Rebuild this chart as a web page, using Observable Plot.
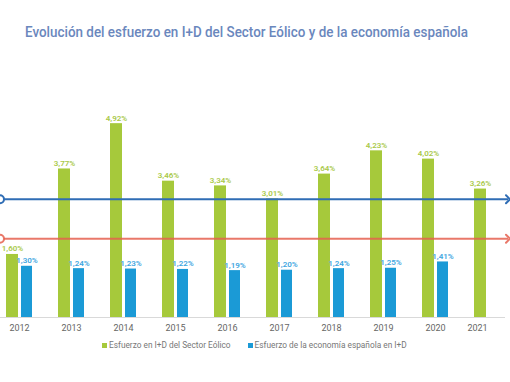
<!DOCTYPE html>
<html><head><meta charset="utf-8">
<script src="https://cdn.jsdelivr.net/npm/d3@7"></script>
<script src="https://cdn.jsdelivr.net/npm/@observablehq/plot@0.6"></script>
<style>
body{margin:0;background:#fff;font-family:Roboto,"Noto Sans",sans-serif;}
#wrap{width:510px;height:382px;overflow:hidden;position:relative;background:#fff}
#title{height:52px;box-sizing:border-box;padding:22px 0 0 25px;white-space:nowrap}
#title span{display:inline-block;font-size:15px;line-height:18px;font-weight:500;color:#6a87bd;transform-origin:0 50%}
#chart svg{display:block}
#legend{margin-top:5px;height:10px;line-height:10px;font-size:8.3px;color:#777;padding-left:102px;white-space:nowrap;display:flex}
#legend .item{display:flex;align-items:center}
#legend .sw{width:5px;height:5px;margin-right:2px;display:inline-block}
</style></head><body>
<div id="wrap">
  <div id="title"><span id="titletext">Evolución del esfuerzo en I+D del Sector Eólico y de la economía española</span></div>
  <div id="chart"></div>
  <div id="legend"></div>
</div>
<script>
const years = ["2012","2013","2014","2015","2016","2017","2018","2019","2020","2021"];
const eolico = [1.60, 3.77, 4.92, 3.46, 3.34, 3.01, 3.64, 4.23, 4.02, 3.26];
const espana = [1.30, 1.24, 1.23, 1.22, 1.19, 1.20, 1.24, 1.25, 1.41, null];
const seriesNames = ["Esfuerzo en I+D del Sector Eólico", "Esfuerzo de la economía española en I+D"];
const refValues = [3, 2];

const GREEN = "#a6c93b";
const BLUE = "#1b9ad6";
const GREEN_TXT = "#a9c94a";
const BLUE_TXT = "#3ea6df";

const data = years.map((y, i) => ({year: y, eolico: eolico[i], espana: espana[i]}));
const dataEsp = data.filter(d => d.espana != null);
const fmt = v => v.toFixed(2).replace(".", ",") + "%";

const chart = Plot.plot({
  width: 510, height: 283,
  marginTop: 68, marginBottom: 18, marginLeft: 0, marginRight: 0,
  style: {fontFamily: "Roboto, sans-serif", background: "#fff"},
  x: {domain: years, range: [-7, 513], padding: 0, axis: null},
  y: {domain: [0, 5], axis: null},
  marks: [
    Plot.ruleY([0], {stroke: "#d9d9d9", insetRight: 5}),
    Plot.barY(data, {x: "year", y: "eolico", fill: GREEN, insetLeft: 13, insetRight: 27}),
    Plot.barY(dataEsp, {x: "year", y: "espana", fill: BLUE, insetLeft: 28, insetRight: 13}),
    Plot.text(data, {x: "year", y: "eolico", text: d => fmt(d.eolico), dx: -7, dy: -3, lineAnchor: "bottom", fill: GREEN_TXT, fontSize: 8, fontWeight: 600}),
    Plot.text(dataEsp, {x: "year", y: "espana", text: d => fmt(d.espana), dx: 7.5, dy: -3, lineAnchor: "bottom", fill: BLUE_TXT, fontSize: 8, fontWeight: 600}),
    Plot.ruleY([refValues[0]], {stroke: "#2f6db5", strokeWidth: 2, insetRight: 2, markerStart: "circle-stroke", markerEnd: "arrow"}),
    Plot.ruleY([refValues[1]], {stroke: "#e5604f", strokeOpacity: 0.85, strokeWidth: 2, insetRight: 2, markerStart: "circle-stroke", markerEnd: "arrow"}),
    Plot.axisX(years.slice(0, 9), {tickSize: 0, tickPadding: 7, fontSize: 9, color: "#666", label: null}),
    Plot.axisX(years.slice(9), {tickSize: 0, tickPadding: 7, fontSize: 9, color: "#666", dx: -10, label: null})
  ]
});
document.getElementById("chart").appendChild(chart);

// fit title to the reference width
const tt = document.getElementById("titletext");
const w = tt.getBoundingClientRect().width;
tt.style.transform = `scaleX(${443 / w})`;

const legend = document.getElementById("legend");
[[GREEN, seriesNames[0]], [BLUE, seriesNames[1]]].forEach(([c, name], i) => {
  const it = document.createElement("span");
  it.className = "item";
  if (i === 1) it.style.marginLeft = "17px";
  it.innerHTML = `<span class="sw" style="background:${c}"></span>${name}`;
  legend.appendChild(it);
});
</script>
</body></html>
